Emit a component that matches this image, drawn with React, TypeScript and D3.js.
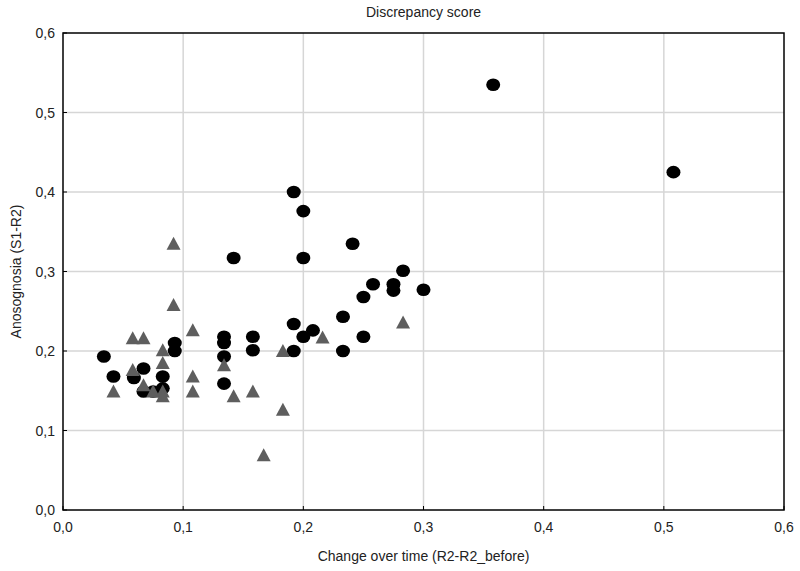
import * as d3 from 'd3'

// circles (group 1)
const circleX = [0.034, 0.042, 0.059, 0.067, 0.067, 0.075, 0.083, 0.083, 0.093, 0.093, 0.134, 0.134, 0.134, 0.134, 0.142, 0.158, 0.158, 0.192, 0.192, 0.192, 0.200, 0.200, 0.200, 0.208, 0.233, 0.233, 0.241, 0.250, 0.250, 0.258, 0.275, 0.275, 0.283, 0.300, 0.358, 0.508]
const circleY = [0.193, 0.168, 0.166, 0.178, 0.149, 0.149, 0.168, 0.153, 0.210, 0.200, 0.218, 0.210, 0.193, 0.159, 0.317, 0.218, 0.201, 0.400, 0.234, 0.200, 0.376, 0.317, 0.218, 0.226, 0.243, 0.200, 0.335, 0.268, 0.218, 0.284, 0.284, 0.276, 0.301, 0.277, 0.535, 0.425]

// triangles (group 2)
const triX = [0.042, 0.058, 0.067, 0.058, 0.067, 0.075, 0.083, 0.083, 0.083, 0.083, 0.092, 0.092, 0.108, 0.108, 0.108, 0.134, 0.142, 0.158, 0.167, 0.183, 0.183, 0.216, 0.283]
const triY = [0.149, 0.216, 0.216, 0.176, 0.157, 0.149, 0.201, 0.185, 0.149, 0.143, 0.335, 0.258, 0.226, 0.168, 0.149, 0.182, 0.143, 0.149, 0.069, 0.200, 0.126, 0.217, 0.236]

const ticks = [0, 0.1, 0.2, 0.3, 0.4, 0.5, 0.6]

const W = 800
const H = 571
const left = 63
const right = 784
const top = 33
const bottom = 510

const fmt = (v: number) => d3.format('.1f')(v).replace('.', ',')

export default function App() {
  const x = d3.scaleLinear().domain([0, 0.6]).range([left, right])
  const y = d3.scaleLinear().domain([0, 0.6]).range([bottom, top])
  const tri = 'M0,-7L7,6L-7,6Z'
  const font = '"Liberation Sans", Arial, sans-serif'

  return (
    <svg width={W} height={H} style={{ position: 'absolute', left: 0, top: 0, background: '#fff' }} fontFamily={font}>
      <rect width={W} height={H} fill="#fff" />
      {/* grid */}
      {ticks.slice(1, -1).map(t => (
        <line key={'gx' + t} x1={x(t)} x2={x(t)} y1={top} y2={bottom} stroke="#d6d6d6" strokeWidth={1.5} />
      ))}
      {ticks.slice(1, -1).map(t => (
        <line key={'gy' + t} x1={left} x2={right} y1={y(t)} y2={y(t)} stroke="#d6d6d6" strokeWidth={1.5} />
      ))}
      {/* ticks */}
      {ticks.map(t => (
        <line key={'tx' + t} x1={x(t)} x2={x(t)} y1={bottom} y2={bottom - 4} stroke="#000" />
      ))}
      {ticks.map(t => (
        <line key={'ty' + t} x1={left} x2={left + 4} y1={y(t)} y2={y(t)} stroke="#000" />
      ))}
      {/* points */}
      {circleX.map((v, i) => (
        <ellipse key={'c' + i} cx={x(v)} cy={y(circleY[i])} rx={7} ry={6.3} fill="#000" />
      ))}
      {triX.map((v, i) => (
        <path key={'t' + i} d={tri} transform={`translate(${x(v)},${y(triY[i])})`} fill="#5e5e5e" />
      ))}
      {/* frame */}
      <rect x={left} y={top} width={right - left} height={bottom - top} fill="none" stroke="#000" strokeWidth={1.5} />
      {/* tick labels */}
      {ticks.map(t => (
        <text key={'lx' + t} x={x(t)} y={bottom + 22} textAnchor="middle" fontSize={14} fill="#222">{fmt(t)}</text>
      ))}
      {ticks.map(t => (
        <text key={'ly' + t} x={left - 8} y={y(t) + 5} textAnchor="end" fontSize={14} fill="#222">{fmt(t)}</text>
      ))}
      <text x={(left + right) / 2} y={17} textAnchor="middle" fontSize={14} fill="#222">Discrepancy score</text>
      <text x={(left + right) / 2} y={561} textAnchor="middle" fontSize={14} fill="#222">Change over time (R2-R2_before)</text>
      <text transform={`translate(21,${(top + bottom) / 2}) rotate(-90)`} textAnchor="middle" fontSize={14} fill="#222">Anosognosia (S1-R2)</text>
    </svg>
  )
}
